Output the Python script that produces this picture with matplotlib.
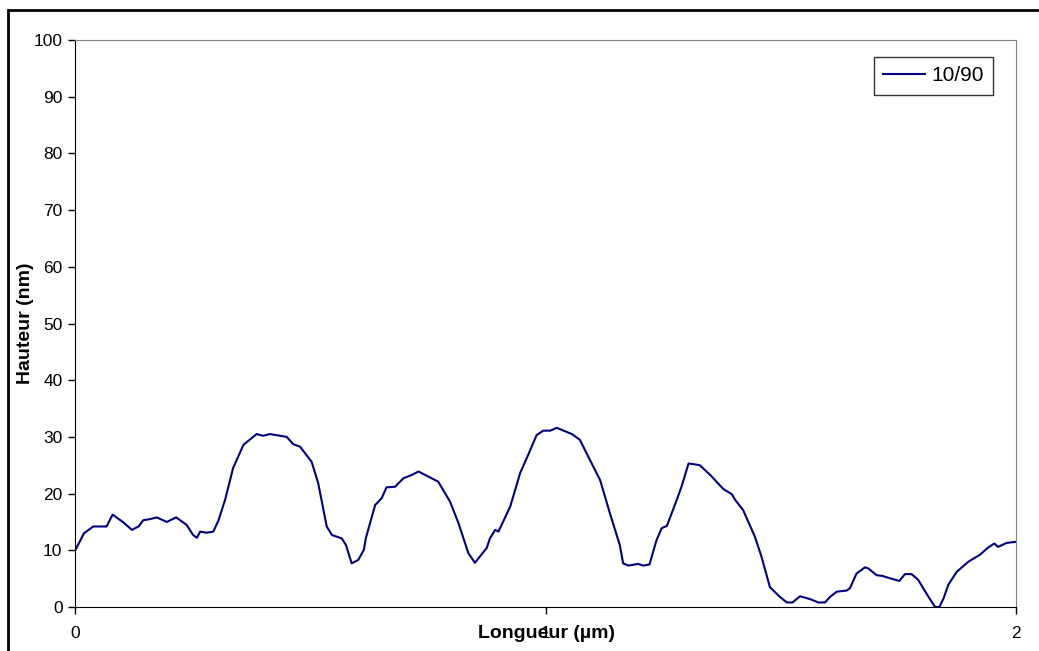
import matplotlib
matplotlib.use("Agg")
import matplotlib.pyplot as plt
from matplotlib.patches import Rectangle

plt.rcParams["font.family"] = ["Liberation Sans", "DejaVu Sans"]

# Profil AFM, échantillon 10/90
longueur = [0.0, 0.019, 0.039, 0.067, 0.080, 0.103, 0.121, 0.135, 0.145, 0.159,
            0.174, 0.195, 0.215, 0.237, 0.251, 0.259, 0.266, 0.280, 0.294, 0.305,
            0.319, 0.336, 0.358, 0.386, 0.400, 0.414, 0.450, 0.464, 0.478, 0.503,
            0.517, 0.535, 0.546, 0.567, 0.576, 0.588, 0.602, 0.614, 0.618, 0.638,
            0.652, 0.662, 0.680, 0.698, 0.716, 0.730, 0.751, 0.772, 0.797, 0.815,
            0.836, 0.850, 0.875, 0.882, 0.893, 0.900, 0.925, 0.946, 0.963, 0.981,
            0.995, 1.010, 1.024, 1.056, 1.073, 1.091, 1.116, 1.137, 1.158, 1.165,
            1.176, 1.197, 1.208, 1.221, 1.236, 1.247, 1.258, 1.279, 1.289, 1.304,
            1.314, 1.328, 1.350, 1.378, 1.396, 1.403, 1.420, 1.445, 1.459, 1.477,
            1.498, 1.513, 1.525, 1.541, 1.562, 1.580, 1.594, 1.605, 1.619, 1.640,
            1.647, 1.661, 1.679, 1.686, 1.704, 1.715, 1.739, 1.752, 1.764, 1.778,
            1.792, 1.814, 1.828, 1.837, 1.846, 1.856, 1.874, 1.899, 1.923, 1.941,
            1.954, 1.962, 1.980, 2.0]
hauteur = [9.9, 13.0, 14.2, 14.2, 16.3, 14.9, 13.6, 14.2, 15.3, 15.5,
           15.8, 15.0, 15.8, 14.5, 12.7, 12.2, 13.3, 13.1, 13.3, 15.3,
           18.9, 24.5, 28.6, 30.5, 30.2, 30.5, 30.0, 28.7, 28.3, 25.6,
           21.8, 14.2, 12.7, 12.1, 10.9, 7.7, 8.3, 10.1, 12.1, 18.0,
           19.2, 21.1, 21.2, 22.7, 23.3, 23.9, 23.0, 22.1, 18.6, 14.8,
           9.5, 7.8, 10.4, 12.1, 13.6, 13.3, 17.7, 23.6, 26.8, 30.3,
           31.1, 31.1, 31.6, 30.5, 29.5, 26.5, 22.4, 16.5, 10.9, 7.7,
           7.3, 7.6, 7.3, 7.5, 11.8, 13.9, 14.3, 18.9, 21.2, 25.3,
           25.2, 25.0, 23.3, 20.8, 19.9, 18.9, 17.1, 12.4, 8.9, 3.5,
           1.8, 0.8, 0.8, 1.9, 1.4, 0.8, 0.8, 1.8, 2.7, 2.9,
           3.3, 5.9, 7.0, 6.8, 5.6, 5.5, 4.9, 4.6, 5.8, 5.8,
           4.8, 1.8, 0.0, 0.0, 1.5, 3.9, 6.2, 8.0, 9.2, 10.5,
           11.2, 10.6, 11.3, 11.5]

fig = plt.figure(figsize=(10.39, 6.51), dpi=100)
ax = fig.add_axes([75 / 1039, 44 / 651, 941 / 1039, 567 / 651])

ax.plot(longueur, hauteur, color="#000080", linewidth=1.5, label="10/90")

ax.set_xlim(0, 2)
ax.set_ylim(0, 100)
ax.set_xticks([0, 1, 2])
ax.set_yticks(range(0, 101, 10))
ax.tick_params(direction="out", length=5, width=1, labelsize=12.5, pad=4)
ax.tick_params(axis="x", pad=9)

ax.spines["top"].set_color("#808080")
ax.spines["right"].set_color("#808080")

# titres des axes (le « 1 » reste sous le titre, comme dans Excel)
fig.text(26 / 1039, 1 - 323 / 651, "Hauteur (nm)", fontsize=14,
         fontweight="bold", rotation=90, ha="center", va="center")
fig.text(546 / 1039, 1 - 634 / 651, "Longueur (µm)", fontsize=14,
         fontweight="bold", ha="center", va="center")

leg = ax.legend(loc="upper right", bbox_to_anchor=(993 / 1039, 1 - 57 / 651),
                bbox_transform=fig.transFigure, fontsize=15, frameon=True,
                fancybox=False, handlelength=2.0, handletextpad=0.3,
                borderpad=0.45, borderaxespad=0)
leg.get_frame().set_edgecolor("black")
leg.get_frame().set_linewidth(1)

# cadre extérieur du graphique
fig.patches.append(Rectangle((8 / 1039, -0.1), 1.2, 1 - 10 / 651 + 0.1,
                             transform=fig.transFigure, fill=False,
                             edgecolor="black", linewidth=2))

plt.savefig("out.png", dpi=100)
plt.close()
